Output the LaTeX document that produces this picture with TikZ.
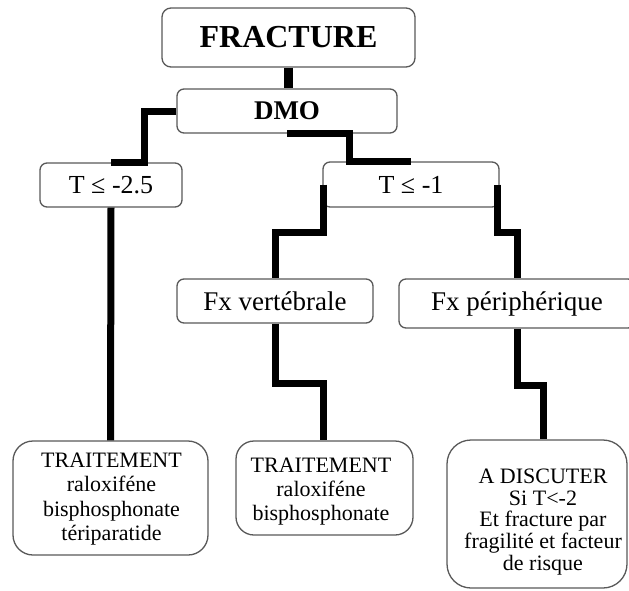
\documentclass[tikz,border=0pt]{standalone}
\usepackage{fontspec}
\setmainfont{Liberation Serif}
\begin{document}
\begin{tikzpicture}[x=1pt,y=-1pt,
  box/.style={draw=black!65, line width=1.3pt, rounded corners=7pt, fill=white, inner sep=0pt, align=center, text=black},
  txt/.style={inner sep=0pt, align=center, text=black},
  conn/.style={line width=7pt, draw=black},
]
\useasboundingbox (0,0) rectangle (629,590);
% boxes
\node[box, minimum width=253pt, minimum height=59pt, rounded corners=9pt, font=\fontsize{32}{38}\selectfont\bfseries] (frac) at (288.5,37.5) {FRACTURE};
\node[box, minimum width=220pt, minimum height=44pt, font=\fontsize{27}{32}\selectfont\bfseries] (dmo) at (287,111) {DMO};
\node[box, minimum width=142pt, minimum height=44pt, font=\fontsize{26}{31}\selectfont] (t25) at (111,185) {T ≤ -2.5};
\node[box, minimum width=176pt, minimum height=45pt, font=\fontsize{26}{31}\selectfont] (t1) at (411,184.5) {T ≤ -1};
\node[box, minimum width=196pt, minimum height=44pt, font=\fontsize{27}{32}\selectfont] (fxv) at (275,301) {Fx vertébrale};
\node[box, minimum width=236pt, minimum height=49pt, font=\fontsize{27}{32}\selectfont] (fxp) at (517,303.5) {Fx périphérique};
\node[box, minimum width=195pt, minimum height=114pt, rounded corners=20pt] (left) at (110.5,498) {};
\node[box, minimum width=177pt, minimum height=94pt, rounded corners=18pt] (mid) at (324.5,488) {};
\node[box, minimum width=180pt, minimum height=148pt, rounded corners=24pt] (risk) at (537,514) {};
% texts of the lower boxes
\node[txt, font=\fontsize{22}{24.5}\selectfont] (lefttxt) at (111.5,499) {TRAITEMENT\\raloxiféne\\bisphosphonate\\tériparatide};
\node[txt, font=\fontsize{22}{24.3}\selectfont] (midtxt) at (321,491.5) {TRAITEMENT\\raloxiféne\\bisphosphonate};
\node[txt, font=\fontsize{22}{21.7}\selectfont] (risktxt) at (543,522) {A DISCUTER\\Si T<-2\\Et fracture par\\fragilité et facteur\\de risque};
% connectors
\draw[conn, line width=9pt] (frac.south) -- (frac.south |- dmo.north);
\draw[conn] (dmo.west) -- ++(-32,0) |- (t25.north);
\draw[conn] (dmo.south) -- ++(62,0) |- (t1.north);
\draw[conn] (t25.south) -- (left.north);
\draw[conn] ([xshift=1pt]t1.west) -- ++(0,48) -| (fxv.north);
\draw[conn] ([xshift=-2pt]t1.east) -- ++(0,48) -| (fxp.north);
\draw[conn] (fxv.south) -- ++(0,60) -| ([xshift=-1pt]mid.north);
\draw[conn] (fxp.south) -- ++(0,57) -| ([xshift=6pt]risk.north);
\end{tikzpicture}
\end{document}
